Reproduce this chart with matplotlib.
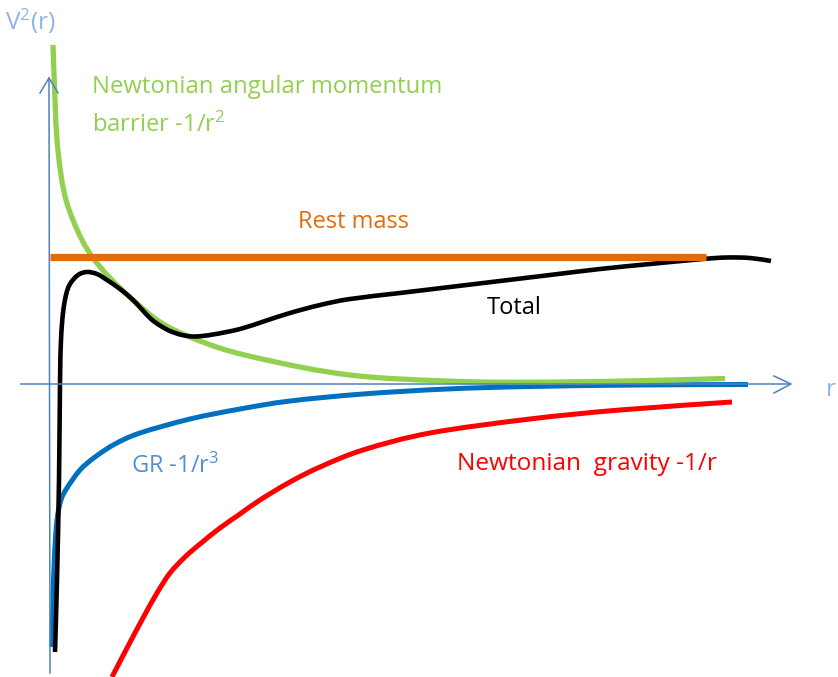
import matplotlib
matplotlib.use("Agg")
import matplotlib.pyplot as plt
import numpy as np
from matplotlib.path import Path
from matplotlib.patches import PathPatch

plt.rcParams["font.family"] = ["Open Sans", "DejaVu Sans"]
plt.rcParams["mathtext.fontset"] = "custom"
plt.rcParams["mathtext.rm"] = "Open Sans"
plt.rcParams["mathtext.it"] = "Open Sans"

# Sketch coordinates (x to the right, y downward)
rest_x = [50, 706]
rest_y = [257, 257]

barrier_x = [53, 55, 57, 61, 66, 73, 82, 93, 110, 133, 160, 190, 233, 300, 350,
             400, 480, 560, 650, 725]
barrier_y = [45, 100, 140, 175, 200, 220, 240, 258, 278, 300, 322, 337, 352, 367,
             375, 379, 382, 382, 380.5, 378.5]

total_x = [55, 57, 59, 60, 61, 63, 66, 70, 78, 87, 97, 107, 120, 133, 150, 160,
           170, 182, 195, 213, 240, 265, 290, 320, 350, 400, 450, 500, 550, 600,
           650, 703, 727, 750, 771]
total_y = [652, 580, 480, 383, 340, 313, 295, 284, 275, 272, 274, 280, 289, 300,
           318, 325.5, 331, 335, 336.5, 334.5, 329, 321, 313, 305, 299, 293, 287,
           281, 275, 269, 264, 259, 257.5, 258, 261]

gr_x = [52, 53, 54.5, 57, 61, 67, 80, 95, 115, 140, 190, 240, 290, 363, 447,
        530, 640, 748]
gr_y = [647, 600, 555, 520, 500, 488, 470, 457, 444, 433, 419, 409, 401, 394,
        389, 386.5, 385, 384.5]

grav_x = [112, 127, 143, 157, 170, 185, 200, 220, 240, 260, 290, 320, 363, 430,
          530, 620, 732]
grav_y = [677, 648, 618, 593, 573, 557, 544, 528, 514, 500, 482, 467, 450, 433,
          419, 410, 402]

# Axes with open arrow heads
v_axis_x = [50, 49]
v_axis_y = [673, 78]
v_head_x = [40, 49, 58]
v_head_y = [93, 78, 93]
h_axis_x = [21, 790]
h_axis_y = [384, 384]
h_head_x = [774, 791, 774]
h_head_y = [376, 384, 393]


def smooth_path(xs, ys):
    """Cubic Bezier path through the given points (Catmull-Rom tangents)."""
    p = np.column_stack([xs, ys]).astype(float)
    n = len(p)
    verts = [p[0]]
    codes = [Path.MOVETO]
    for i in range(n - 1):
        p0 = p[i - 1] if i > 0 else p[i]
        p1, p2 = p[i], p[i + 1]
        p3 = p[i + 2] if i + 2 < n else p[i + 1]
        verts += [p1 + (p2 - p0) / 6.0, p2 - (p3 - p1) / 6.0, p2]
        codes += [Path.CURVE4] * 3
    return Path(verts, codes)


def draw_curve(ax, xs, ys, color, lw):
    ax.add_patch(PathPatch(smooth_path(xs, ys), fill=False, edgecolor=color,
                           lw=lw, capstyle="butt", joinstyle="round"))


AXIS = "#4F81BD"
fig = plt.figure(figsize=(8.38, 6.77), dpi=100)
ax = fig.add_axes([0, 0, 1, 1])
ax.set_xlim(0, 838)
ax.set_ylim(677, 0)
ax.axis("off")

ax.plot(v_axis_x, v_axis_y, color=AXIS, lw=1.1)
ax.plot(v_head_x, v_head_y, color=AXIS, lw=1.1)
ax.plot(h_axis_x, h_axis_y, color=AXIS, lw=1.1)
ax.plot(h_head_x, h_head_y, color=AXIS, lw=1.1)

ax.plot(rest_x, rest_y, color="#E36C09", lw=5.2, solid_capstyle="butt")
draw_curve(ax, gr_x, gr_y, "#0070C0", 3.6)
draw_curve(ax, grav_x, grav_y, "#FF0000", 3.6)
draw_curve(ax, barrier_x, barrier_y, "#92D050", 3.8)
draw_curve(ax, total_x, total_y, "black", 3.3)

fs = 17
ax.text(5, 30, r"V$^{2}$(r)", color="#8EB4E3", fontsize=17.5, va="baseline")
ax.text(826, 396, "r", color="#8EB4E3", fontsize=17.5, va="baseline")
ax.text(92, 93, "Newtonian angular momentum", color="#92D050", fontsize=17.2,
        va="baseline")
ax.text(92, 132, r"barrier -1/r$^{2}$", color="#92D050", fontsize=17.2,
        va="baseline")
ax.text(298, 228, "Rest mass", color="#E46C0A", fontsize=fs, va="baseline")
ax.text(487, 314, "Total", color="black", fontsize=fs, va="baseline")
ax.text(131, 473, r"GR -1/r$^{3}$", color="#558ED5", fontsize=fs,
        va="baseline")
ax.text(457, 470, "Newtonian  gravity -1/r", color="#FF0000", fontsize=17.6,
        va="baseline")

fig.savefig("out.png", dpi=100)
